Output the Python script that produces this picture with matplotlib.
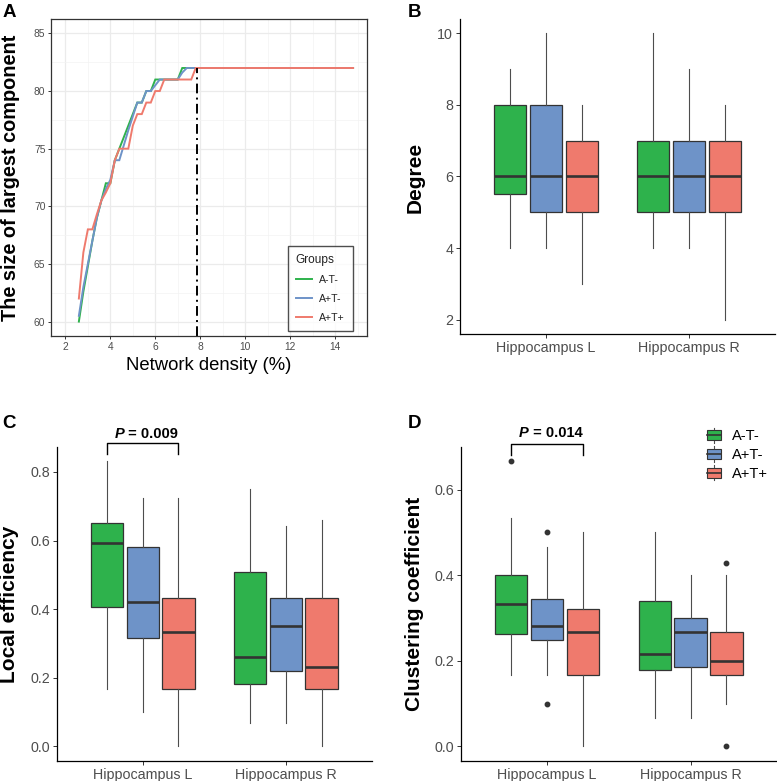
import matplotlib
matplotlib.use("Agg")
import matplotlib.pyplot as plt
import numpy as np
from matplotlib.lines import Line2D
from matplotlib.patches import Patch, Rectangle
from matplotlib.legend_handler import HandlerBase

# ── Data ───────────────────────────────────────────────────────────────────
groups = ["A-T-", "A+T-", "A+T+"]
regions = ["Hippocampus L", "Hippocampus R"]
colors = ["#2EB24C", "#6E93C8", "#EF7A6D"]

# panel A: size of largest component vs network density
density = [2.6, 2.8, 3.0, 3.2, 3.4, 3.6, 3.8, 4.0, 4.2, 4.4, 4.6, 4.8, 5.0, 5.2,
           5.4, 5.6, 5.8, 6.0, 6.2, 6.4, 6.6, 6.8, 7.0, 7.2, 7.4, 7.6, 7.8, 14.8]
size_atn = [60, 62.6, 64.8, 67, 69, 70.5, 72, 72, 74, 75, 76, 77, 78, 79,
            79, 80, 80, 81, 81, 81, 81, 81, 81, 82, 82, 82, 82, 82]
size_apt = [60.5, 63, 65, 67, 69, 70.5, 71.5, 72.3, 74, 74, 75.3, 76.6, 77.8, 79,
            79, 80, 80, 80.5, 81, 81, 81, 81, 81, 81.6, 82, 82, 82, 82]
size_aptp = [62, 66, 68, 68, 69.3, 70.5, 71.2, 72, 74, 75, 75, 75, 77, 78,
             78, 79, 79, 80, 80, 81, 81, 81, 81, 81, 81, 81, 82, 82]
cut_density = 7.86
cut_size = 82

# panels B-D: rows = groups, cols = regions (L, R)
deg_lo  = [[4, 4], [4, 4], [3, 2]]
deg_q1  = [[5.5, 5], [5, 5], [5, 5]]
deg_med = [[6, 6], [6, 6], [6, 6]]
deg_q3  = [[8, 7], [8, 7], [7, 7]]
deg_hi  = [[9, 10], [10, 9], [8, 8]]

leff_lo  = [[0.167, 0.068], [0.100, 0.068], [0.0, 0.0]]
leff_q1  = [[0.405, 0.183], [0.317, 0.219], [0.166, 0.166]]
leff_med = [[0.593, 0.261], [0.420, 0.352], [0.333, 0.232]]
leff_q3  = [[0.650, 0.507], [0.581, 0.433], [0.433, 0.433]]
leff_hi  = [[0.832, 0.750], [0.723, 0.643], [0.723, 0.659]]

clus_lo  = [[0.166, 0.067], [0.166, 0.067], [0.0, 0.100]]
clus_q1  = [[0.263, 0.179], [0.249, 0.185], [0.166, 0.166]]
clus_med = [[0.333, 0.215], [0.282, 0.267], [0.267, 0.200]]
clus_q3  = [[0.400, 0.340], [0.345, 0.300], [0.322, 0.267]]
clus_hi  = [[0.534, 0.500], [0.467, 0.400], [0.500, 0.400]]
clus_out = [[[0.668], []], [[0.500, 0.100], []], [[], [0.429, 0.0]]]

p_leff = "0.009"
p_clus = "0.014"

# ── Style ──────────────────────────────────────────────────────────────────
plt.rcParams.update({
    "font.family": ["Liberation Sans", "DejaVu Sans"],
    "axes.linewidth": 0.9,
})
W, H = 777, 781
fig = plt.figure(figsize=(W / 100, H / 100), dpi=100)


def fx(px):
    return px / W


def fy(py):
    return 1 - py / H


def axes_px(x0, y0, x1, y1):
    return fig.add_axes([fx(x0), fy(y1), (x1 - x0) / W, (y1 - y0) / H])


TXT = "#4D4D4D"
EDGE = "#333333"

# ── Panel A ────────────────────────────────────────────────────────────────
axA = axes_px(51, 19, 367, 336)
for yv, c, g in zip([size_atn, size_apt, size_aptp], colors, groups):
    axA.plot(density, yv, color=c, lw=1.4, label=g, solid_joinstyle="miter")
axA.vlines(cut_density, 58.75, cut_size, color="black", lw=1.4,
           linestyles=(0, (5, 2.2, 1, 2.2)))
axA.set_xlim(1.36, 15.42)
axA.set_ylim(58.75, 86.25)
axA.set_xticks(np.arange(2, 15, 2))
axA.set_xticks(np.arange(3, 16, 2), minor=True)
axA.set_yticks(np.arange(60, 86, 5))
axA.set_yticks(np.arange(62.5, 85, 5), minor=True)
axA.grid(which="major", color="#EBEBEB", lw=0.9)
axA.grid(which="minor", color="#F3F3F3", lw=0.5)
axA.set_axisbelow(True)
axA.tick_params(which="major", length=2.2, width=0.7, color=EDGE,
                labelsize=7.4, labelcolor=TXT, pad=1.8)
axA.tick_params(which="minor", length=0)
for s in axA.spines.values():
    s.set_color(EDGE)
leg = axA.legend(title="Groups", loc="lower right", bbox_to_anchor=(0.956, 0.016),
                 fontsize=7.6, title_fontsize=8.6, frameon=True, fancybox=False,
                 edgecolor="#222222", handlelength=1.55, labelspacing=0.85,
                 handletextpad=0.7, borderpad=0.75, borderaxespad=0,
                 alignment="left")
leg.get_frame().set_linewidth(1.0)
for t in leg.get_texts():
    t.set_color("#222222")
leg.get_title().set_color("#222222")

fig.text(fx(209), fy(366), "Network density (%)", ha="center", va="center",
         fontsize=13.3, color="black")
fig.text(fx(11), fy(177.5), "The size of largest component", ha="center", va="center",
         rotation=90, fontsize=14.3, fontweight="bold")

# ── Box panels ─────────────────────────────────────────────────────────────
offsets = [-0.25, 0.0, 0.25]
box_w = 0.225


def draw_boxes(ax, lo, q1, med, q3, hi, fliers=None):
    for g in range(3):
        stats = []
        for r in range(2):
            stats.append(dict(whislo=lo[g][r], q1=q1[g][r], med=med[g][r],
                              q3=q3[g][r], whishi=hi[g][r],
                              fliers=fliers[g][r] if fliers else []))
        pos = np.arange(1, 3) + offsets[g]
        ax.bxp(stats, positions=pos, widths=box_w, patch_artist=True,
               showcaps=False, manage_ticks=False,
               boxprops=dict(facecolor=colors[g], edgecolor=EDGE, lw=0.9),
               medianprops=dict(color=EDGE, lw=1.9, solid_capstyle="butt"),
               whiskerprops=dict(color=TXT, lw=0.8),
               flierprops=dict(marker="o", markerfacecolor=EDGE,
                               markeredgecolor=EDGE, markersize=3.2))
    ax.set_xlim(0.4, 2.6)
    ax.set_xticks([1, 2])
    ax.set_xticklabels(regions)
    ax.spines["top"].set_visible(False)
    ax.spines["right"].set_visible(False)
    ax.spines["left"].set_color("black")
    ax.spines["bottom"].set_color("black")
    ax.tick_params(length=3.0, width=0.7, color=EDGE, labelsize=10.3,
                   labelcolor=TXT, pad=2.0)


def bracket(ax, y_top, y_end, p_text, y_text, x_split):
    x1 = 1 + offsets[0]
    x2 = 1 + offsets[2]
    ax.plot([x1, x1, x2, x2], [y_end, y_top, y_top, y_end], color="black",
            lw=1.0, clip_on=False)
    ax.text(x_split, y_text, "P", ha="right", va="baseline", fontsize=10.5,
            fontweight="bold", fontstyle="italic", clip_on=False)
    ax.text(x_split, y_text, " = " + p_text, ha="left", va="baseline",
            fontsize=10.5, fontweight="bold", clip_on=False)


# Panel B
axB = axes_px(460, 19, 775, 334)
draw_boxes(axB, deg_lo, deg_q1, deg_med, deg_q3, deg_hi)
axB.set_ylim(1.6, 10.4)
axB.set_yticks([2, 4, 6, 8, 10])
fig.text(fx(415.5), fy(177), "Degree", ha="center", va="center", rotation=90,
         fontsize=15, fontweight="bold")

# Panel C
axC = axes_px(56.7, 446.7, 371.7, 760.7)
draw_boxes(axC, leff_lo, leff_q1, leff_med, leff_q3, leff_hi)
axC.set_ylim(-0.0416, 0.8736)
axC.set_yticks([0.0, 0.2, 0.4, 0.6, 0.8])
axC.set_yticklabels(["0.0", "0.2", "0.4", "0.6", "0.8"])
bracket(axC, 0.883, 0.852, p_leff, 0.900, 0.87)
fig.text(fx(10), fy(604), "Local efficiency", ha="center", va="center", rotation=90,
         fontsize=15, fontweight="bold")

# Panel D
axD = axes_px(461, 446.7, 776.7, 760.7)
draw_boxes(axD, clus_lo, clus_q1, clus_med, clus_q3, clus_hi, clus_out)
axD.set_ylim(-0.0334, 0.7004)
axD.set_yticks([0.0, 0.2, 0.4, 0.6])
axD.set_yticklabels(["0.0", "0.2", "0.4", "0.6"])
bracket(axD, 0.707, 0.682, p_clus, 0.723, 0.873)
fig.text(fx(414), fy(604), "Clustering coefficient", ha="center", va="center",
         rotation=90, fontsize=15, fontweight="bold")


class BoxKey(HandlerBase):
    def create_artists(self, legend, orig, xd, yd, w, h, fontsize, trans):
        fc = orig.get_facecolor()
        whisk = Line2D([xd + w / 2] * 2, [yd - 0.25 * h, yd + 1.25 * h],
                       color=TXT, lw=0.8, transform=trans)
        box = Rectangle((xd, yd), w, h, facecolor=fc, edgecolor=EDGE, lw=0.8,
                        transform=trans)
        med = Line2D([xd, xd + w], [yd + h / 2] * 2, color=EDGE, lw=1.2,
                     transform=trans)
        return [whisk, box, med]


handles = [Patch(facecolor=c) for c in colors]
axD.legend(handles, groups, handler_map={Patch: BoxKey()}, loc="upper left",
           bbox_to_anchor=(0.78, 1.055), frameon=False, fontsize=10.5,
           handlelength=0.95, handleheight=0.7, labelspacing=0.32,
           handletextpad=0.75, borderpad=0, borderaxespad=0)

# panel letters
for lx, ly, lab in [(3, 4, "A"), (408, 4, "B"), (2, 415, "C"), (408, 415, "D")]:
    fig.text(fx(lx), fy(ly), lab, ha="left", va="top", fontsize=13.5,
             fontweight="bold")

fig.savefig("out.png", dpi=100)
